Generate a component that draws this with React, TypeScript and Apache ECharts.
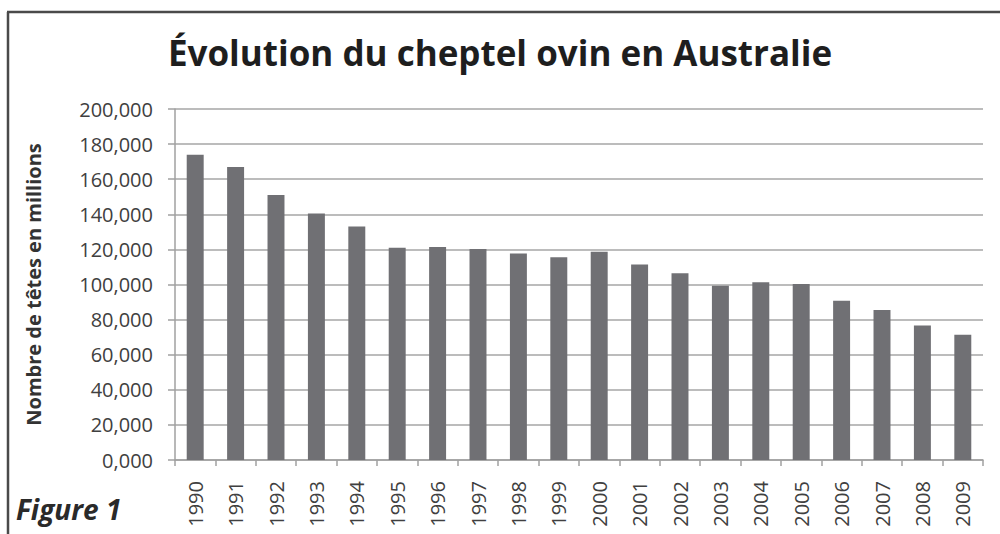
import React, { useEffect, useRef } from "react";
import * as echarts from "echarts";

const years = ["1990","1991","1992","1993","1994","1995","1996","1997","1998","1999","2000","2001","2002","2003","2004","2005","2006","2007","2008","2009"];
const heads = [174, 167, 151, 140.5, 133, 121, 121.3, 120.2, 117.7, 115.5, 118.7, 111.4, 106.4, 99.3, 101.3, 100.3, 90.8, 85.4, 76.7, 71.3];
const titleText = "Évolution du cheptel ovin en Australie";
const yName = "Nombre de têtes en millions";
const figureLabel = "Figure 1";

export default function App() {
  const ref = useRef<HTMLDivElement>(null);
  useEffect(() => {
    if (!ref.current) return;
    const chart = echarts.init(ref.current, null, { renderer: "svg" });
    const font = "'Open Sans', sans-serif";
    chart.setOption({
      animation: false,
      backgroundColor: "#ffffff",
      title: {
        text: titleText,
        left: "center",
        top: 30,
        textStyle: { fontFamily: font, fontSize: 35, fontWeight: "bold", color: "#1e1e1e" },
      },
      grid: { left: 175, right: 17, top: 109, bottom: 74, containLabel: false },
      xAxis: {
        type: "category",
        data: years,
        axisLine: { show: true, lineStyle: { color: "#a0a0a0", width: 1.5 } },
        axisTick: { show: true, length: 6, alignWithLabel: false, lineStyle: { color: "#a0a0a0", width: 1.5 } },
        axisLabel: { rotate: 90, margin: 21, fontFamily: font, fontSize: 20, color: "#404040", interval: 0 },
      },
      yAxis: {
        type: "value",
        min: 0,
        max: 200,
        interval: 20,
        name: yName,
        nameLocation: "middle",
        nameGap: 132,
        nameTextStyle: { fontFamily: font, fontSize: 20, fontWeight: "bold", color: "#333333" },
        axisLine: { show: true, lineStyle: { color: "#a0a0a0", width: 1.5 } },
        axisTick: { show: true, length: 7, lineStyle: { color: "#a0a0a0", width: 1.5 } },
        axisLabel: {
          margin: 22,
          fontFamily: font,
          fontSize: 20,
          color: "#404040",
          formatter: (v: number) => v.toFixed(3).replace(".", ","),
        },
        splitLine: { show: true, lineStyle: { color: "#a6a6a6", width: 1.5 } },
      },
      series: [
        {
          type: "bar",
          data: heads,
          barWidth: "42%",
          itemStyle: { color: "#707074" },
        },
      ],
      graphic: [
        { type: "line", shape: { x1: 7, y1: 12, x2: 1000, y2: 12 }, style: { stroke: "#4a4a4a", lineWidth: 2.5 } },
        { type: "line", shape: { x1: 8, y1: 12, x2: 8, y2: 534 }, style: { stroke: "#4a4a4a", lineWidth: 2.5 } },
        {
          type: "text",
          left: 16,
          top: 495,
          style: { text: figureLabel, fontFamily: font, fontSize: 28, fontWeight: "bold", fontStyle: "italic", fill: "#2a2a2a" },
        },
      ],
    });
    return () => chart.dispose();
  }, []);
  return <div ref={ref} style={{ position: "fixed", left: 0, top: 0, width: 1000, height: 534 }} />;
}
